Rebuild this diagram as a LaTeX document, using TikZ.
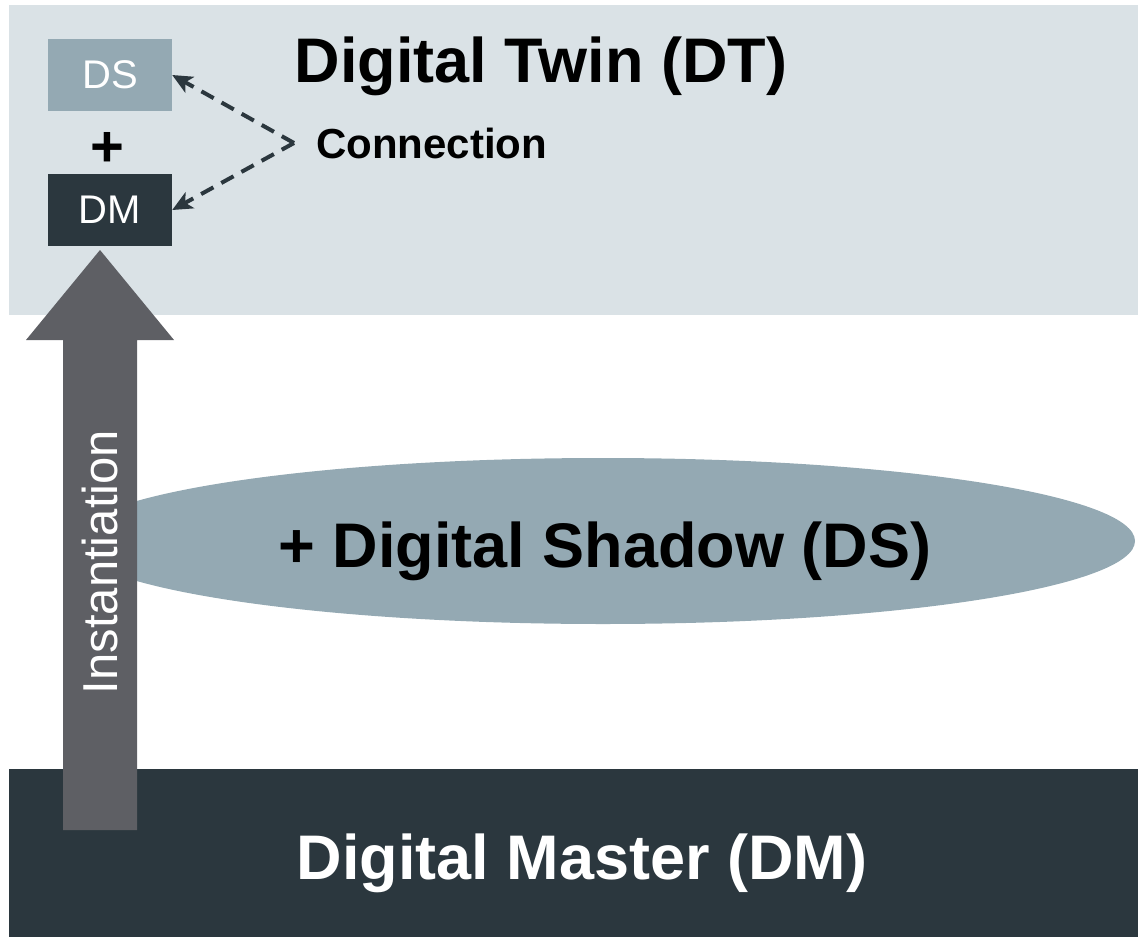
\documentclass[tikz,border=0pt]{standalone}
\usepackage{fontspec}
\setmainfont{Liberation Sans}
\usetikzlibrary{positioning}
\usetikzlibrary{arrows.meta,shapes.geometric}
\definecolor{twinbg}{HTML}{DAE2E6}
\definecolor{shadowc}{HTML}{94A9B3}
\definecolor{masterc}{HTML}{2B373E}
\definecolor{instc}{HTML}{5E5F64}
\tikzset{%
  band/.style = {rectangle,inner sep=0,anchor=north west},
  b/.style = {rectangle,inner sep=0,minimum width=124pt,
        minimum height=72pt,text=white,font=\fontsize{40}{40}\selectfont},
  connarrow/.style = {-{Stealth[length=20pt,width=18pt,inset=5pt]},
        dash pattern=on 14pt off 9pt,line width=4pt,draw=masterc},
  big/.style = {anchor=base,inner sep=0,font=\bfseries\fontsize{63}{63}\selectfont}
}
\begin{document}
\begin{tikzpicture}[x=1pt,y=-1pt]
    \useasboundingbox (0,0) rectangle (1138,937);
    % layers
    \node[band,fill=twinbg,minimum width=1129pt,minimum height=310pt] (dt) at (9,5) {};
    \node[band,fill=masterc,minimum width=1129pt,minimum height=168pt] (dm) at (9,769) {};
    \node[ellipse,fill=shadowc,inner sep=0,minimum width=1064pt,minimum height=166pt] (ds) at (603,541) {};

    % instantiation arrow
    \fill[instc] (63,830) -- (63,340) -- (26,340) -- (100,250) -- (174,340)
        -- (137,340) -- (137,830) -- cycle;
    \node[rotate=90,text=white,font=\fontsize{49}{49}\selectfont] (inst) at (100,562) {Instantiation};

    \node[big] (dttext) at (541,82) {Digital Twin (DT)};
    \node[big] (dstext) at (605,567) {+ Digital Shadow (DS)};
    \node[big,text=white] (dmtext) at (582,879) {Digital Master (DM)};

    % DT = DS + DM
    \node[b,fill=shadowc] (dsbox) at (110,75) {DS};
    \node[font=\bfseries\fontsize{58}{58}\selectfont] (plus) at (107,149) {+};
    \node[b,fill=masterc] (dmbox) at (110,210) {DM};
    \node[anchor=base west,inner sep=0,font=\bfseries\fontsize{42}{42}\selectfont] (conn) at (316,158) {Connection};
    \coordinate (c) at ([xshift=-22pt,yshift=15pt]conn.base west);

    \draw[connarrow] (c) -- (dsbox.east);
    \draw[connarrow] (c) -- (dmbox.east);
\end{tikzpicture}
\end{document}
